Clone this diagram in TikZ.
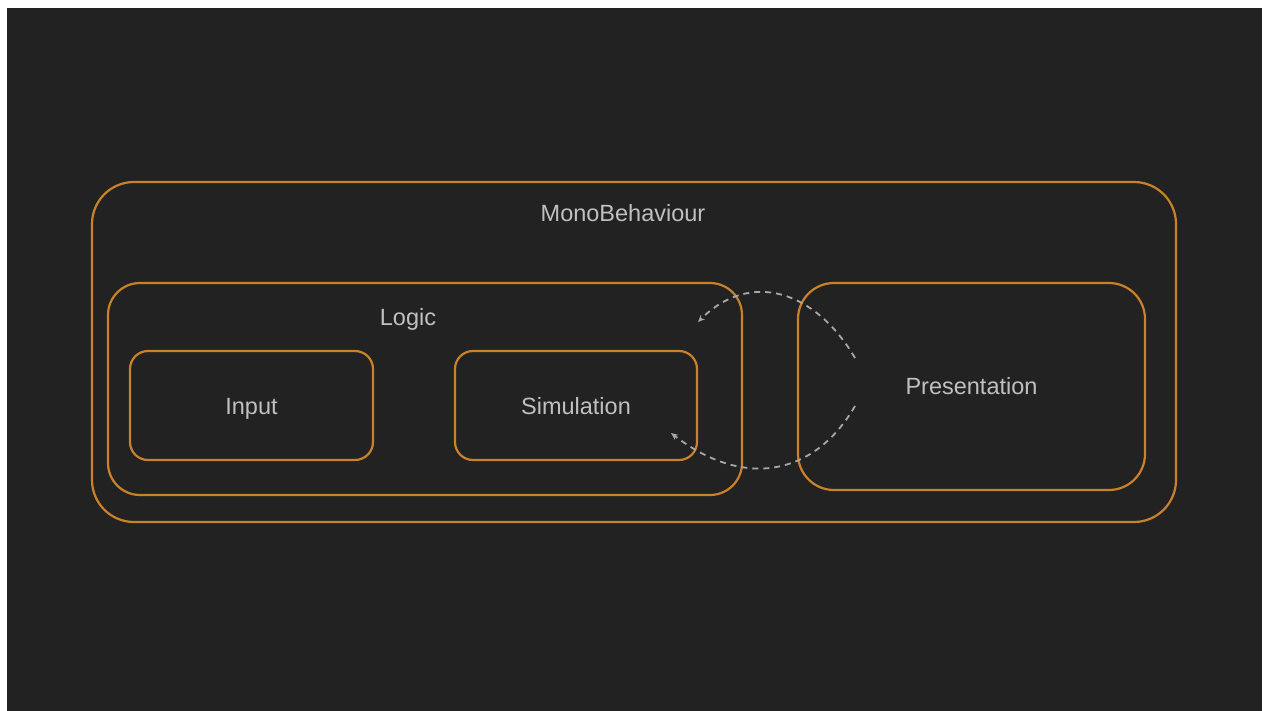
\documentclass[tikz,border=0pt]{standalone}
\usepackage{fontspec}
\setmainfont{Liberation Sans}
\usetikzlibrary{arrows.meta}
\definecolor{bg}{HTML}{222222}
\definecolor{edge}{HTML}{C98228}
\definecolor{txt}{HTML}{C0C0C0}
\definecolor{dash}{HTML}{A8A8A8}
\tikzset{
  frame/.style={draw=edge, line width=2.2pt, rounded corners=#1, inner sep=0pt, text=txt, text height=17pt, text depth=0pt, font=\fontsize{23.5}{28}\selectfont},
  lbl/.style={text=txt, inner sep=0pt, text height=17pt, text depth=0pt, font=\fontsize{23.5}{28}\selectfont},
  flow/.style={draw=dash, line width=1.8pt, dash pattern=on 6pt off 5pt, -{Stealth[length=7pt,width=6pt]}}
}
\begin{document}
\begin{tikzpicture}[x=1pt,y=-1pt]
\useasboundingbox (0,0) rectangle (1264,711);
\fill[white] (0,0) rectangle (1264,711);
\fill[bg] (7,8) rectangle (1262,711);
% containers
\node[frame=42pt, minimum width=1084pt, minimum height=340pt] (mono) at (634,352) {};
\node[frame=32pt, minimum width=634pt, minimum height=212pt] (logic) at (425,389) {};
\node[frame=18pt, minimum width=243pt, minimum height=109pt] (input) at (251.5,405.5) {Input};
\node[frame=18pt, minimum width=242pt, minimum height=109pt] (sim) at (576,405.5) {Simulation};
\node[frame=36pt, minimum width=347pt, minimum height=207pt] (pres) at (971.5,386.5) {Presentation};
\node[lbl] (monolbl) at (623,213) {MonoBehaviour};
\node[lbl] (logiclbl) at (408,317) {Logic};
% connector ends
\coordinate (pa) at (855,358);
\coordinate (pb) at (855,406);
\coordinate (la) at (698,322);
\coordinate (sa) at (671,433);
\draw[flow] (pa) .. controls (815,290) and (750,270) .. (la);
\draw[flow] (pb) .. controls (815,475) and (745,490) .. (sa);
\end{tikzpicture}
\end{document}
